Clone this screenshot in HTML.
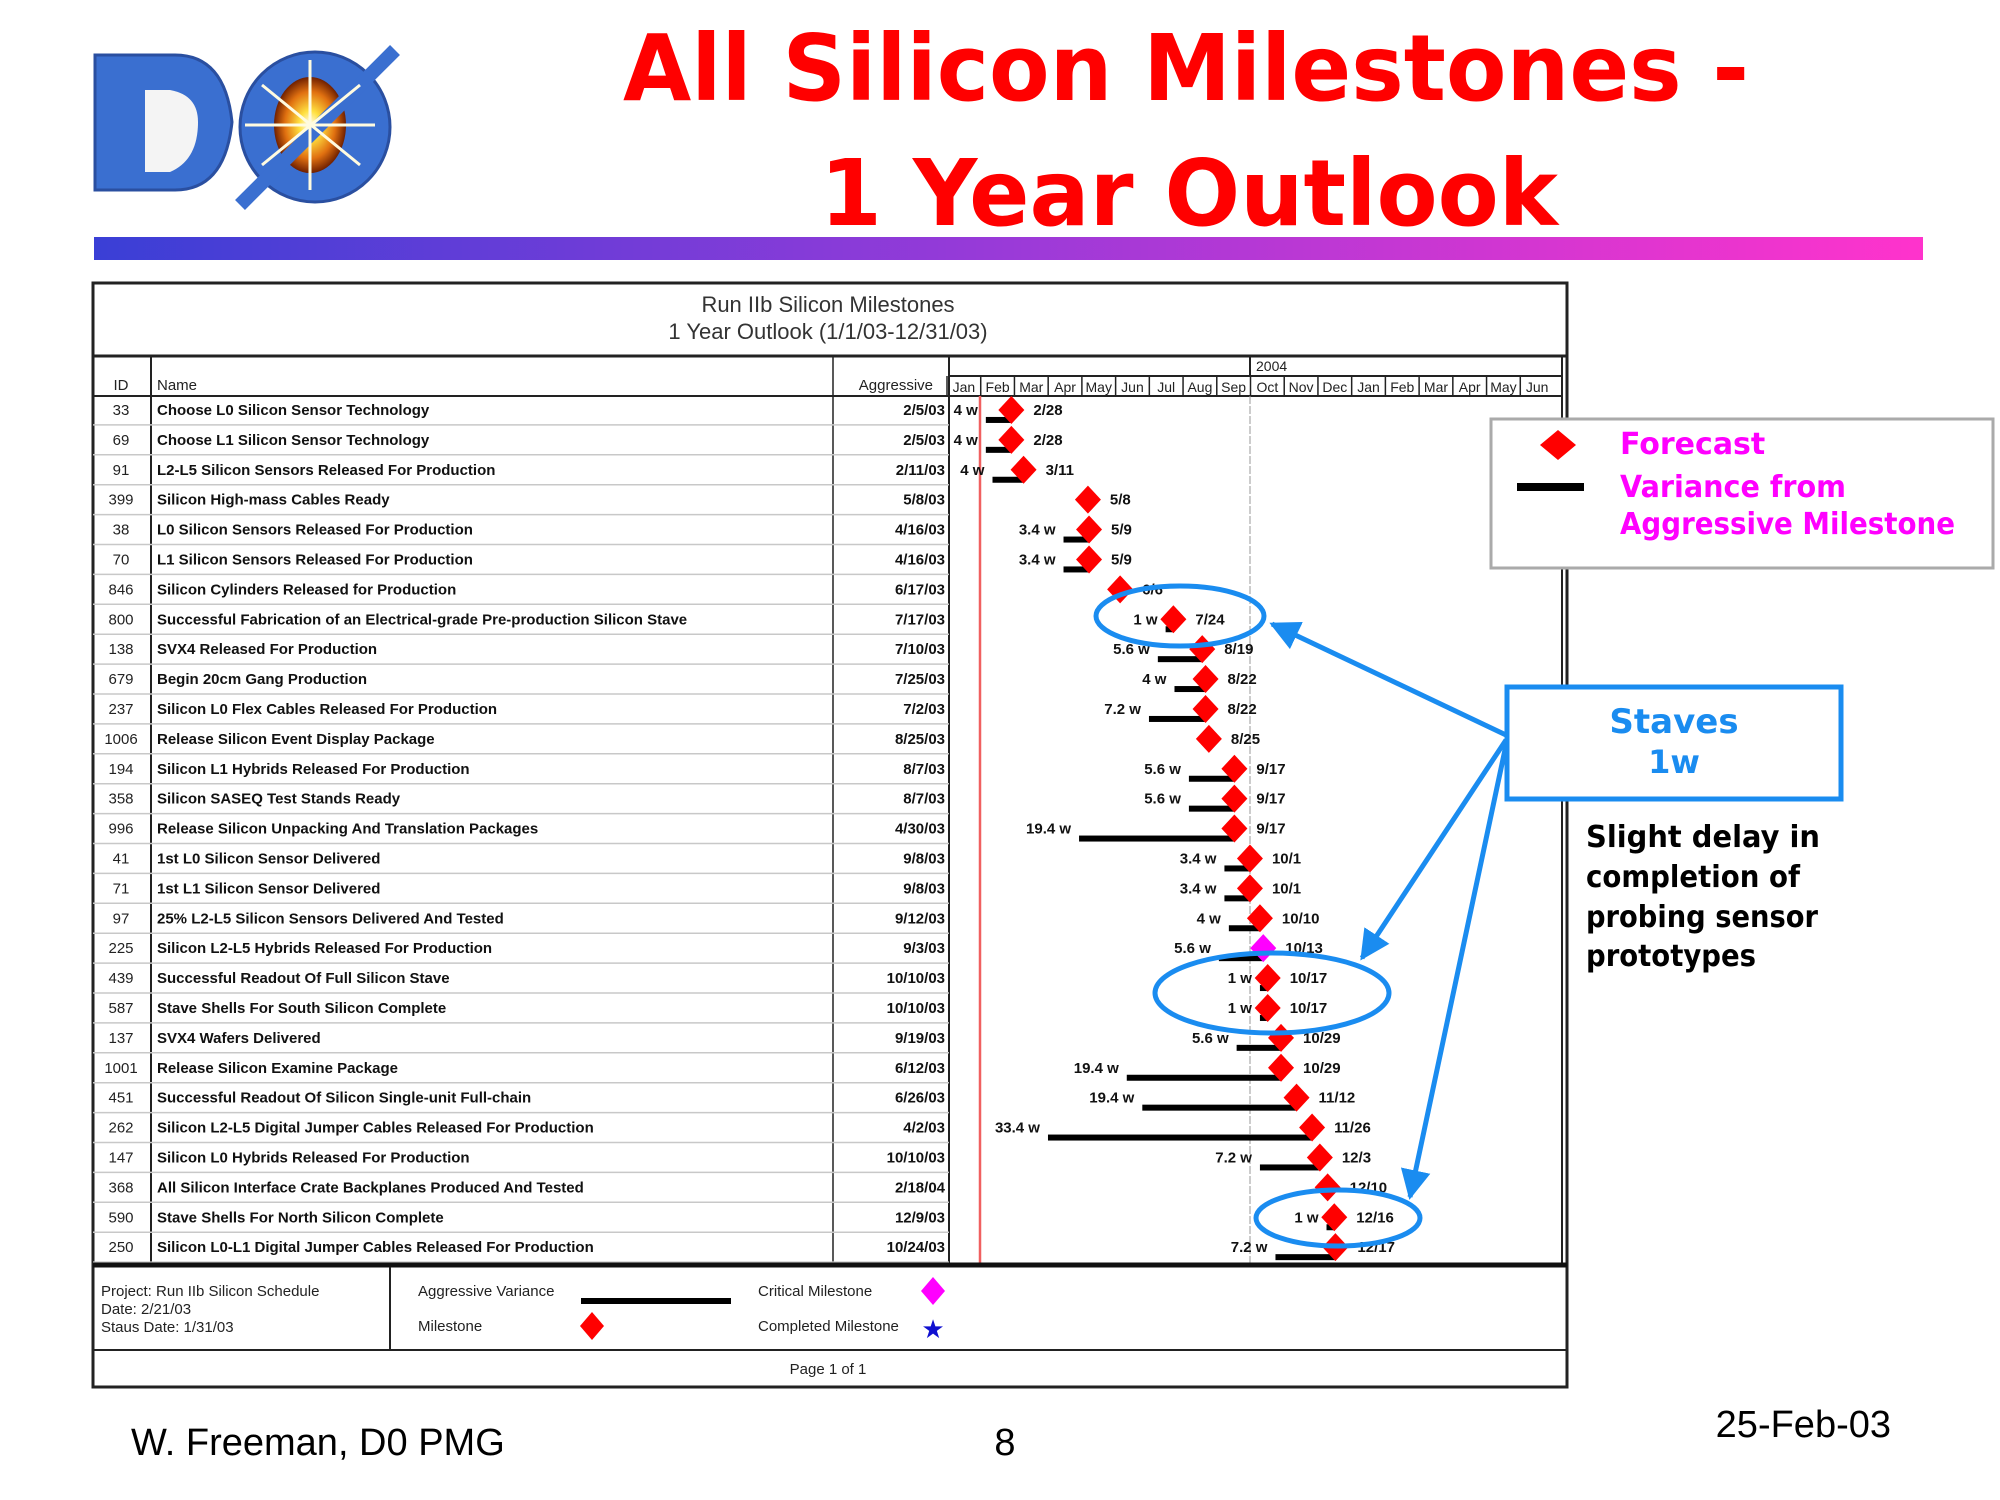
<!DOCTYPE html>
<html><head><meta charset="utf-8">
<style>
html,body{margin:0;padding:0;background:#fff;}
svg{display:block;}
.t{font-family:"Liberation Sans",sans-serif;}
.c{font-family:"DejaVu Sans","Liberation Sans",sans-serif;font-weight:bold;}
</style></head>
<body>
<svg id="page" width="2000" height="1500" viewBox="0 0 2000 1500" xmlns="http://www.w3.org/2000/svg">
<defs>
<linearGradient id="bar" x1="0" x2="1"><stop offset="0" stop-color="#3a3fd6"/><stop offset="0.5" stop-color="#9a3ad8"/><stop offset="1" stop-color="#ff33cc"/></linearGradient>
<radialGradient id="sun"><stop offset="0" stop-color="#fff"/><stop offset="0.3" stop-color="#ffe040"/><stop offset="0.7" stop-color="#e07010"/><stop offset="1" stop-color="#702000"/></radialGradient>
<marker id="ah" viewBox="0 0 10 10" refX="9" refY="5" markerWidth="6" markerHeight="6" orient="auto"><path d="M0,0 L10,5 L0,10 z" fill="#1a8cf0"/></marker>
</defs>
<!-- logo -->
<g>
<path d="M95,55 L175,55 Q225,55 232,122 Q225,190 175,190 L95,190 Z" fill="#3a6fd0" stroke="#2a4fa0" stroke-width="3"/>
<path d="M145,90 L170,90 Q198,95 198,122 Q198,160 170,172 L145,172 Z" fill="#f4f4f4"/>
<ellipse cx="315" cy="127" rx="75" ry="75" fill="#3a6fd0" stroke="#2a4fa0" stroke-width="3"/>
<ellipse cx="310" cy="125" rx="36" ry="48" fill="url(#sun)"/>
<line x1="240" y1="205" x2="395" y2="50" stroke="#3a6fd0" stroke-width="14"/>
<path d="M245,125 L375,125 M310,60 L310,190 M262,85 L360,165 M262,165 L360,85" stroke="#fffbe0" stroke-width="3"/>
</g>
<text class="c" x="1186" y="100" text-anchor="middle" font-size="92" fill="#ff0000" textLength="1126" lengthAdjust="spacingAndGlyphs">All Silicon Milestones -</text>
<text class="c" x="1189" y="225" text-anchor="middle" font-size="92" fill="#ff0000" textLength="738" lengthAdjust="spacingAndGlyphs">1 Year Outlook</text>
<rect x="94" y="237" width="1829" height="23" fill="url(#bar)"/>

<!-- main table frame -->
<g>
<rect x="93" y="283" width="1474" height="1104" fill="#fff" stroke="#222" stroke-width="3"/>
<line x1="93" y1="356" x2="1567" y2="356" stroke="#222" stroke-width="3"/>
<text class="t" x="828" y="312" text-anchor="middle" font-size="22" fill="#333">Run IIb Silicon Milestones</text>
<text class="t" x="828" y="339" text-anchor="middle" font-size="22" fill="#333">1 Year Outlook (1/1/03-12/31/03)</text>
<text class="t" x="121" y="390" text-anchor="middle" font-size="15" fill="#222">ID</text>
<text class="t" x="157" y="390" font-size="15" fill="#222">Name</text>
<text class="t" x="933" y="390" text-anchor="end" font-size="15" fill="#222">Aggressive</text>
<line x1="151" y1="356" x2="151" y2="1263" stroke="#222" stroke-width="2"/>
<line x1="833" y1="356" x2="833" y2="1263" stroke="#222" stroke-width="1.5"/>
<line x1="949" y1="356" x2="949" y2="1263" stroke="#222" stroke-width="2"/>
<line x1="1562" y1="356" x2="1562" y2="1263" stroke="#222" stroke-width="2"/>
<line x1="949" y1="376" x2="1562" y2="376" stroke="#222" stroke-width="2"/>
<line x1="93" y1="396" x2="1562" y2="396" stroke="#222" stroke-width="2"/>
<line x1="1250" y1="356" x2="1250" y2="376" stroke="#222" stroke-width="2"/>
<text class="t" x="1256" y="371" font-size="14" fill="#222">2004</text>
<g id="months"></g>
<line x1="1250" y1="396" x2="1250" y2="1263" stroke="#999" stroke-width="1" stroke-dasharray="8,2"/>
<line x1="980" y1="396" x2="980" y2="1263" stroke="#f06060" stroke-width="2.5"/>
<g id="rows"></g>
<line x1="93" y1="1265" x2="1567" y2="1265" stroke="#111" stroke-width="5"/>
<line x1="390" y1="1267" x2="390" y2="1350" stroke="#222" stroke-width="2"/>
<line x1="93" y1="1350" x2="1567" y2="1350" stroke="#222" stroke-width="2"/>
<g>
<text class="t" x="101" y="1296" font-size="15" fill="#222">Project: Run IIb Silicon Schedule</text>
<text class="t" x="101" y="1314" font-size="15" fill="#222">Date: 2/21/03</text>
<text class="t" x="101" y="1332" font-size="15" fill="#222">Staus Date: 1/31/03</text>
<text class="t" x="418" y="1296" font-size="15" fill="#222">Aggressive Variance</text>
<rect x="581" y="1298" width="150" height="6" fill="#000"/>
<text class="t" x="418" y="1331" font-size="15" fill="#222">Milestone</text>
<path d="M592,1312 L604,1326 L592,1340 L580,1326 Z" fill="#f00"/>
<text class="t" x="758" y="1296" font-size="15" fill="#222">Critical Milestone</text>
<path d="M933,1277 L945,1291 L933,1305 L921,1291 Z" fill="#f0f"/>
<text class="t" x="758" y="1331" font-size="15" fill="#222">Completed Milestone</text>
<text x="933" y="1338" text-anchor="middle" font-size="26" fill="#1010d0" font-family="DejaVu Sans,sans-serif">★</text>
</g>
<text class="t" x="828" y="1374" text-anchor="middle" font-size="15" fill="#222">Page 1 of 1</text>
</g>

<!-- right legend -->
<g>
<rect x="1491" y="419" width="502" height="149" fill="#fff" stroke="#aaa" stroke-width="3"/>
<path d="M1558,430 L1576,445 L1558,460 L1540,445 Z" fill="#f00"/>
<rect x="1517" y="483" width="67" height="8" fill="#000"/>
<text class="c" x="1620" y="454" font-size="30" fill="#ff00ff">Forecast</text>
<text class="c" x="1620" y="497" font-size="30" fill="#ff00ff" textLength="226" lengthAdjust="spacingAndGlyphs">Variance from</text>
<text class="c" x="1620" y="534" font-size="30" fill="#ff00ff" textLength="335" lengthAdjust="spacingAndGlyphs">Aggressive Milestone</text>
</g>
<g>
<rect x="1507" y="687" width="334" height="112" fill="#fff" stroke="#1a8cf0" stroke-width="5"/>
<text class="c" x="1674" y="733" text-anchor="middle" font-size="34" fill="#1a8cf0">Staves</text>
<text class="c" x="1674" y="773" text-anchor="middle" font-size="32" fill="#1a8cf0">1w</text>
</g>
<g>
<text class="c" x="1586" y="847" font-size="30" fill="#000" textLength="234" lengthAdjust="spacingAndGlyphs">Slight delay in</text>
<text class="c" x="1586" y="887" font-size="30" fill="#000" textLength="214" lengthAdjust="spacingAndGlyphs">completion of</text>
<text class="c" x="1586" y="927" font-size="30" fill="#000" textLength="232" lengthAdjust="spacingAndGlyphs">probing sensor</text>
<text class="c" x="1586" y="966" font-size="30" fill="#000" textLength="170" lengthAdjust="spacingAndGlyphs">prototypes</text>
</g>
<g fill="none" stroke="#1a8cf0" stroke-width="5">
<ellipse cx="1180" cy="616" rx="84" ry="30"/>
<ellipse cx="1272" cy="993" rx="117" ry="40"/>
<ellipse cx="1338" cy="1218" rx="82" ry="28"/>
<line x1="1506" y1="735" x2="1272" y2="624" marker-end="url(#ah)"/>
<line x1="1506" y1="740" x2="1362" y2="958" marker-end="url(#ah)"/>
<line x1="1506" y1="745" x2="1410" y2="1197" marker-end="url(#ah)"/>
</g>
<text class="t" x="131" y="1455" font-size="38" fill="#000">W. Freeman, D0 PMG</text>
<text class="t" x="1005" y="1455" text-anchor="middle" font-size="38" fill="#000">8</text>
<text class="t" x="1891" y="1437" text-anchor="end" font-size="38" fill="#000">25-Feb-03</text>
</svg>
<script>
const monthLabels = ["Jan","Feb","Mar","Apr","May","Jun","Jul","Aug","Sep","Oct","Nov","Dec","Jan","Feb","Mar","Apr","May","Jun"];
const ids = ["33","69","91","399","38","70","846","800","138","679","237","1006","194","358","996","41","71","97","225","439","587","137","1001","451","262","147","368","590","250"];
const names = ["Choose L0 Silicon Sensor Technology","Choose L1 Silicon Sensor Technology","L2-L5 Silicon Sensors Released For Production","Silicon High-mass Cables Ready","L0 Silicon Sensors Released For Production","L1 Silicon Sensors Released For Production","Silicon Cylinders Released for Production","Successful Fabrication of an Electrical-grade Pre-production Silicon Stave","SVX4 Released For Production","Begin 20cm Gang Production","Silicon L0 Flex Cables Released For Production","Release Silicon Event Display Package","Silicon L1 Hybrids Released For Production","Silicon SASEQ Test Stands Ready","Release Silicon Unpacking And Translation Packages","1st L0 Silicon Sensor Delivered","1st L1 Silicon Sensor Delivered","25% L2-L5 Silicon Sensors Delivered And Tested","Silicon L2-L5 Hybrids Released For Production","Successful Readout Of Full Silicon Stave","Stave Shells For South Silicon Complete","SVX4 Wafers Delivered","Release Silicon Examine Package","Successful Readout Of Silicon Single-unit Full-chain","Silicon L2-L5 Digital Jumper Cables Released For Production","Silicon L0 Hybrids Released For Production","All Silicon  Interface Crate Backplanes Produced And Tested","Stave Shells For North Silicon Complete","Silicon L0-L1 Digital Jumper Cables Released For Production"];
const aggressive = ["2/5/03","2/5/03","2/11/03","5/8/03","4/16/03","4/16/03","6/17/03","7/17/03","7/10/03","7/25/03","7/2/03","8/25/03","8/7/03","8/7/03","4/30/03","9/8/03","9/8/03","9/12/03","9/3/03","10/10/03","10/10/03","9/19/03","6/12/03","6/26/03","4/2/03","10/10/03","2/18/04","12/9/03","10/24/03"];
const forecast = ["2/28","2/28","3/11","5/8","5/9","5/9","6/6","7/24","8/19","8/22","8/22","8/25","9/17","9/17","9/17","10/1","10/1","10/10","10/13","10/17","10/17","10/29","10/29","11/12","11/26","12/3","12/10","12/16","12/17"];
const variance = ["4 w","4 w","4 w","","3.4 w","3.4 w","","1 w","5.6 w","4 w","7.2 w","","5.6 w","5.6 w","19.4 w","3.4 w","3.4 w","4 w","5.6 w","1 w","1 w","5.6 w","19.4 w","19.4 w","33.4 w","7.2 w","","1 w","7.2 w"];
const critical = ["225"];

const NS="http://www.w3.org/2000/svg";
const X0=947, X1=1554, TOTAL_DAYS=547;
function dayOf(s){const p=s.split("/").map(Number);const y=p.length>2?(p[2]<50?2000+p[2]:p[2]):2003;const d=new Date(Date.UTC(y,p[0]-1,p[1]));return (d-Date.UTC(2003,0,1))/86400000;}
function xScale(days){return X0+days*(X1-X0)/TOTAL_DAYS;}
function mk(tag,attrs,parent){const e=document.createElementNS(NS,tag);for(const k in attrs)e.setAttribute(k,attrs[k]);parent.appendChild(e);return e;}

const mg=document.getElementById("months");
const mw=(X1-X0)/monthLabels.length;
monthLabels.forEach((m,i)=>{
  const x=X0+i*mw;
  const ln=mk("line",{x1:x,y1:376,x2:x,y2:396,stroke:"#222","stroke-width":1.5},mg);
  const t=mk("text",{x:x+mw/2,y:392,"text-anchor":"middle","font-size":14,fill:"#222",class:"t"},mg);
  t.textContent=m;
  
  
});

const rg=document.getElementById("rows");
const ROW0=395, RH=29.9;
ids.forEach((id,i)=>{
  const top=ROW0+i*RH, cy=top+RH/2;
  const g=mk("g",{},rg);
  
  
  mk("line",{x1:93,y1:top+RH,x2:949,y2:top+RH,stroke:"#c8c8c8","stroke-width":1.5},g);
  const a=mk("text",{x:121,y:cy+5,"text-anchor":"middle","font-size":15,fill:"#222",class:"t"},g);a.textContent=id;
  const n=mk("text",{x:157,y:cy+5,"font-size":15,"font-weight":"bold",fill:"#111",class:"t"},g);n.textContent=names[i];
  const ag=mk("text",{x:945,y:cy+5,"text-anchor":"end","font-size":15,"font-weight":"bold",fill:"#111",class:"t"},g);ag.textContent=aggressive[i];
  const fx=xScale(dayOf(forecast[i])), ax=xScale(dayOf(aggressive[i]));
  if(variance[i] && ax<fx){
    const bar=mk("rect",{x:ax,y:cy+7,width:fx-ax,height:6,fill:"#000"},g);
    
    
    const vl=mk("text",{x:ax-8,y:cy+5,"text-anchor":"end","font-size":15,"font-weight":"bold",fill:"#111",class:"t"},g);vl.textContent=variance[i];
  }
  const col=critical.includes(id)?"#ff00ff":"#ff0000";
  const dm=mk("path",{d:`M${fx},${cy-14} L${fx+13},${cy} L${fx},${cy+14} L${fx-13},${cy} Z`,fill:col},g);
  
  
  const fl=mk("text",{x:fx+22,y:cy+5,"font-size":15,"font-weight":"bold",fill:"#111",class:"t"},g);fl.textContent=forecast[i];
});
</script>
</body></html>
